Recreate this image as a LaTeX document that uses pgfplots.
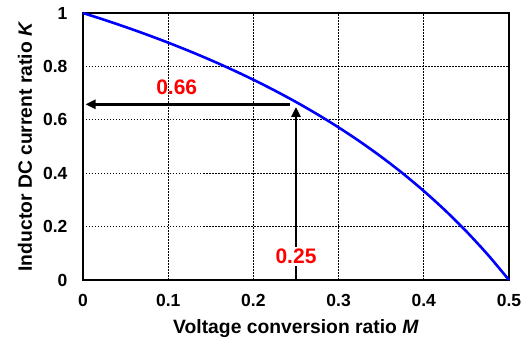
\documentclass[border=0pt]{standalone}
\usepackage{fontspec}
\setmainfont{Liberation Sans}
\usepackage{pgfplots}
\pgfplotsset{compat=1.18}
\usetikzlibrary{arrows.meta}
\begin{document}
\begin{tikzpicture}
\useasboundingbox (-83pt,-65pt) rectangle (445pt,280pt);
\begin{axis}[
  scale only axis,
  width=426pt, height=267pt,
  at={(0,0)}, anchor=south west,
  xmin=0, xmax=0.5, ymin=0, ymax=1,
  xtick={0,0.1,...,0.5},
  ytick={0,0.2,...,1},
  xticklabels={0,0.1,0.2,0.3,0.4,0.5},
  yticklabels={0,0.2,0.4,0.6,0.8,1},
  major tick length=0pt,
  /pgf/number format/assume math mode=true,
  tick label style={font=\fontsize{17.5}{20}\selectfont\bfseries},
  xticklabel style={yshift=-11pt},
  yticklabel style={xshift=-12pt},
  axis line style={line width=2.2pt},
  grid=major,
  grid style={black, line width=0.7pt, dash pattern=on 1.5pt off 1.5pt},
  xlabel={Voltage conversion ratio \textit{M}},
  ylabel={Inductor DC current ratio \textit{K}},
  label style={font=\fontsize{19.3}{22}\selectfont\bfseries},
  xlabel style={at={([yshift=-49pt]axis description cs:0.5,0)}, anchor=center},
  ylabel style={at={([xshift=-58pt]axis description cs:0,0.5)}, anchor=center},
  clip=false,
]
\addplot[blue, line width=2.6pt, smooth] coordinates {
(0,1) (0.025,0.97436) (0.05,0.94737) (0.075,0.91892) (0.1,0.88889)
(0.125,0.85714) (0.15,0.82353) (0.175,0.78788) (0.2,0.75) (0.225,0.70968)
(0.25,0.66667) (0.275,0.62069) (0.3,0.57143) (0.325,0.51852) (0.35,0.46154)
(0.375,0.4) (0.4,0.33333) (0.425,0.26087) (0.45,0.18182) (0.475,0.09524) (0.5,0)
};
\addplot[black, line width=2.8pt, -{Triangle[length=10pt,width=9pt]}] coordinates {(0.243,0.658) (0.003,0.658)};
\addplot[black, line width=2.8pt, -{Triangle[length=10pt,width=9pt]}] coordinates {(0.25,0) (0.25,0.648)};
\node[text=red, fill=white, inner sep=2pt, font=\fontsize{21}{24}\selectfont\bfseries] at (axis cs:0.25,0.087) {0.25};
\node[text=red, font=\fontsize{21}{24}\selectfont\bfseries] at (axis cs:0.11,0.721) {0.66};
\end{axis}
\end{tikzpicture}
\end{document}
